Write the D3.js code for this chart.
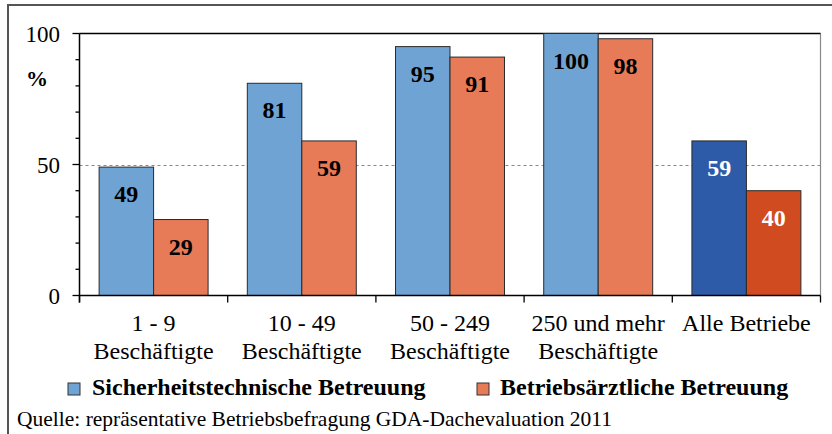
<!DOCTYPE html>
<html><head><meta charset="utf-8">
<script src="https://cdn.jsdelivr.net/npm/d3@7"></script>
<style>body{margin:0;background:#fff}svg{display:block}</style>
</head><body>
<svg id="c" width="832" height="434"></svg>
<script>
const categories = [["1 - 9","Beschäftigte"],["10 - 49","Beschäftigte"],["50 - 249","Beschäftigte"],["250 und mehr","Beschäftigte"],["Alle Betriebe"]];
const seriesNames = ["Sicherheitstechnische Betreuung","Betriebsärztliche Betreuung"];
const sicherheit = [49, 81, 95, 100, 59];
const betriebsarzt = [29, 59, 91, 98, 40];
const yTickLabels = [0, 50, 100];
const yMinorTicks = [0,10,20,30,40,50,60,70,80,90,100];
const sourceText = "Quelle: repräsentative Betriebsbefragung GDA-Dachevaluation 2011";

const colors = ["#6FA3D3", "#E77A57"];
const colorsTotal = ["#2E5BA8", "#D04B1F"];
const FONT = "Liberation Serif";

const svg = d3.select("#c");
const L = 79.5, R = 820.5, T = 33.5, B = 295.5;

svg.append("rect").attr("x",8).attr("y",5).attr("width",840).attr("height",450)
  .attr("fill","none").attr("stroke","#555").attr("stroke-width",2);

const keys = categories.map((c,i)=>i);
const x0 = d3.scaleBand().domain(keys).range([L, R]).paddingInner(0).paddingOuter(0);
const x1 = d3.scaleBand().domain([0,1]).range([0, x0.bandwidth()]).paddingInner(0).paddingOuter(0.36);
const y = d3.scaleLinear().domain([0,100]).range([B, T]);

// plot border
svg.append("line").attr("x1",R).attr("x2",R).attr("y1",T).attr("y2",B).attr("stroke","#888").attr("stroke-width",1.2);
svg.append("line").attr("x1",L).attr("x2",R).attr("y1",T).attr("y2",T).attr("stroke","#000").attr("stroke-width",1.3);

// gridline at 50
svg.append("line").attr("x1",L).attr("x2",R).attr("y1",Math.round(y(50))+0.5).attr("y2",Math.round(y(50))+0.5)
  .attr("stroke","#888").attr("stroke-dasharray","3,3").attr("stroke-width",1);

// bars
const data = [];
keys.forEach(i=>{
  [sicherheit[i], betriebsarzt[i]].forEach((v,s)=>data.push({i,s,v}));
});
const g = svg.append("g");
g.selectAll("rect").data(data).join("rect")
  .attr("x",d=>x0(d.i)+x1(d.s))
  .attr("y",d=>y(d.v))
  .attr("width",x1.bandwidth())
  .attr("height",d=>B-y(d.v))
  .attr("fill",d=> d.i===4 ? colorsTotal[d.s] : colors[d.s])
  .attr("stroke","#2a2a2a").attr("stroke-width",1);

g.selectAll("text").data(data).join("text")
  .attr("x",d=>x0(d.i)+x1(d.s)+x1.bandwidth()/2)
  .attr("y",d=>y(d.v)+35)
  .attr("text-anchor","middle").attr("font-family",FONT)
  .attr("font-weight","bold").attr("font-size",24)
  .attr("fill",d=> d.i===4 ? "#fff" : "#000")
  .text(d=>d.v);

// y axis
const yAxis = svg.append("g");
yAxis.append("line").attr("x1",L).attr("x2",L).attr("y1",T).attr("y2",B+7).attr("stroke","#000").attr("stroke-width",1.5);
yAxis.selectAll("line.minor").data(yMinorTicks).join("line").attr("class","minor")
  .attr("x1",d=>yTickLabels.includes(d)?L-7:L-4).attr("x2",L)
  .attr("y1",d=>y(d)).attr("y2",d=>y(d)).attr("stroke","#000").attr("stroke-width",1.3);
yAxis.selectAll("text").data(yTickLabels).join("text")
  .attr("x",60).attr("y",d=>y(d)+8).attr("text-anchor","end").attr("font-family",FONT)
  .attr("font-size",23).text(d=>d);
svg.append("text").attr("x",26).attr("y",86).attr("font-family",FONT).attr("font-weight","bold").attr("font-size",22).text("%");

// x axis
svg.append("line").attr("x1",L).attr("x2",R).attr("y1",B).attr("y2",B).attr("stroke","#000").attr("stroke-width",1.5);
const bounds = keys.map(i=>x0(i)).concat([R]);
svg.selectAll("line.xt").data(bounds).join("line").attr("class","xt")
  .attr("x1",d=>d).attr("x2",d=>d).attr("y1",B).attr("y2",B+7).attr("stroke","#000").attr("stroke-width",1.3);
const cl = svg.append("g");
keys.forEach(i=>{
  const t = cl.append("text").attr("x",x0(i)+x0.bandwidth()/2).attr("y",331)
    .attr("text-anchor","middle").attr("font-family",FONT).attr("font-size",24);
  categories[i].forEach((line,k)=>{
    t.append("tspan").attr("x",x0(i)+x0.bandwidth()/2).attr("dy",k===0?0:28).text(line);
  });
});

// legend
const legX = [68, 477], legTX = [92, 500];
seriesNames.forEach((n,s)=>{
  svg.append("rect").attr("x",legX[s]).attr("y",383).attr("width",12).attr("height",12)
    .attr("fill",colors[s]).attr("stroke","#333").attr("stroke-width",1);
  svg.append("text").attr("x",legTX[s]).attr("y",395).attr("font-family",FONT).attr("font-weight","bold")
    .attr("font-size",24).text(n);
});

// source
svg.append("text").attr("x",17).attr("y",426).attr("font-family",FONT).attr("font-size",21.5).text(sourceText);
</script>
</body></html>
